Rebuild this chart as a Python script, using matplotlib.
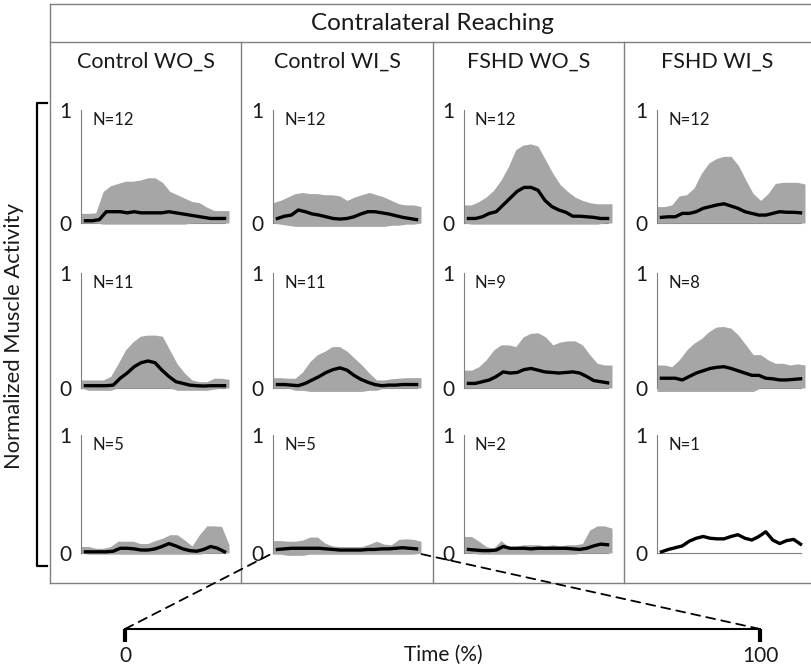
import numpy as np
import matplotlib
matplotlib.use("Agg")
import matplotlib.pyplot as plt
from matplotlib.patches import ConnectionPatch

plt.rcParams['font.family'] = ['Lato', 'DejaVu Sans']

# time (% of reach) for the SD band and the mean trace
t_band = np.linspace(0, 100, 21)
t_mean = np.linspace(3, 97, 21)

groups = ["Control WO_S", "Control WI_S", "FSHD WO_S", "FSHD WI_S"]
n_ctrl_wo = [12, 11, 5]
n_ctrl_wi = [12, 11, 5]
n_fshd_wo = [12, 9, 2]
n_fshd_wi = [12, 8, 1]

# Control WO_S (rows 1-3)
mean_ctrl_wo = [
    [0.02, 0.02, 0.03, 0.10, 0.10, 0.10, 0.09, 0.10, 0.09, 0.09, 0.09, 0.09, 0.10, 0.09, 0.08, 0.07, 0.06, 0.05, 0.04, 0.04, 0.04],
    [0.02, 0.02, 0.02, 0.02, 0.025, 0.085, 0.13, 0.185, 0.22, 0.235, 0.22, 0.155, 0.10, 0.055, 0.04, 0.025, 0.02, 0.017, 0.02, 0.02, 0.02],
    [0.01, 0.01, 0.01, 0.01, 0.015, 0.04, 0.04, 0.035, 0.025, 0.025, 0.035, 0.055, 0.08, 0.06, 0.035, 0.02, 0.015, 0.03, 0.055, 0.04, 0.01],
]
upper_ctrl_wo = [
    [0.085, 0.085, 0.09, 0.28, 0.33, 0.35, 0.37, 0.37, 0.38, 0.40, 0.40, 0.36, 0.28, 0.25, 0.22, 0.19, 0.18, 0.14, 0.11, 0.11, 0.11],
    [0.07, 0.07, 0.07, 0.07, 0.10, 0.21, 0.33, 0.40, 0.45, 0.46, 0.46, 0.45, 0.33, 0.21, 0.13, 0.07, 0.055, 0.055, 0.085, 0.085, 0.075],
    [0.055, 0.055, 0.04, 0.04, 0.055, 0.10, 0.10, 0.10, 0.08, 0.08, 0.105, 0.125, 0.155, 0.155, 0.11, 0.06, 0.155, 0.23, 0.23, 0.225, 0.07],
]
lower_ctrl_wo = [
    [0.0, 0.0, 0.0, -0.01, -0.01, -0.01, -0.01, -0.01, -0.01, -0.01, -0.01, -0.01, -0.01, -0.01, -0.01, 0.0, 0.0, 0.0, 0.0, 0.0, 0.0],
    [0.0, -0.02, -0.02, -0.02, -0.02, 0.0, 0.0, 0.0, 0.0, 0.0, 0.0, 0.0, 0.0, -0.02, -0.02, -0.02, -0.02, -0.02, -0.01, 0.0, 0.0],
    [0.0, -0.01, -0.01, -0.01, -0.01, -0.01, -0.01, -0.01, -0.01, -0.01, -0.01, -0.01, -0.01, -0.01, -0.01, -0.01, -0.01, 0.0, 0.0, 0.0, 0.0],
]

# Control WI_S
mean_ctrl_wi = [
    [0.04, 0.06, 0.07, 0.115, 0.10, 0.08, 0.07, 0.055, 0.04, 0.035, 0.04, 0.055, 0.08, 0.10, 0.10, 0.09, 0.08, 0.065, 0.05, 0.04, 0.03],
    [0.03, 0.03, 0.025, 0.02, 0.04, 0.07, 0.10, 0.135, 0.16, 0.175, 0.155, 0.11, 0.075, 0.05, 0.03, 0.02, 0.025, 0.025, 0.03, 0.03, 0.03],
    [0.03, 0.035, 0.04, 0.04, 0.04, 0.04, 0.04, 0.035, 0.03, 0.025, 0.025, 0.025, 0.025, 0.03, 0.03, 0.035, 0.035, 0.04, 0.045, 0.04, 0.035],
]
upper_ctrl_wi = [
    [0.18, 0.20, 0.23, 0.26, 0.27, 0.26, 0.26, 0.25, 0.25, 0.24, 0.20, 0.23, 0.25, 0.27, 0.25, 0.23, 0.20, 0.17, 0.16, 0.16, 0.145],
    [0.09, 0.09, 0.085, 0.085, 0.14, 0.23, 0.29, 0.32, 0.36, 0.36, 0.32, 0.26, 0.20, 0.13, 0.07, 0.07, 0.08, 0.085, 0.09, 0.09, 0.09],
    [0.105, 0.105, 0.10, 0.10, 0.11, 0.135, 0.135, 0.085, 0.06, 0.055, 0.055, 0.055, 0.055, 0.075, 0.10, 0.075, 0.07, 0.115, 0.12, 0.115, 0.10],
]
lower_ctrl_wi = [
    [0.0, -0.01, -0.02, -0.03, -0.03, -0.03, -0.03, -0.03, -0.03, -0.03, -0.03, -0.03, -0.03, -0.03, -0.03, -0.03, -0.02, -0.02, -0.01, -0.01, 0.0],
    [0.0, 0.0, 0.0, -0.02, -0.02, -0.03, -0.03, -0.03, -0.03, -0.03, -0.03, -0.03, -0.03, -0.02, -0.02, 0.0, 0.0, 0.0, 0.0, 0.0, 0.0],
    [-0.01, -0.01, -0.02, -0.02, -0.02, -0.01, -0.01, -0.01, -0.01, -0.01, -0.01, -0.01, -0.01, -0.01, -0.01, -0.01, -0.01, -0.01, -0.01, -0.01, 0.0],
]

# FSHD WO_S
mean_fshd_wo = [
    [0.04, 0.04, 0.055, 0.085, 0.10, 0.16, 0.22, 0.28, 0.315, 0.315, 0.29, 0.20, 0.145, 0.115, 0.095, 0.06, 0.06, 0.055, 0.05, 0.04, 0.04],
    [0.04, 0.04, 0.055, 0.07, 0.10, 0.14, 0.13, 0.135, 0.16, 0.17, 0.155, 0.14, 0.135, 0.13, 0.135, 0.14, 0.13, 0.10, 0.065, 0.055, 0.045],
    [0.03, 0.025, 0.02, 0.02, 0.025, 0.055, 0.04, 0.04, 0.04, 0.035, 0.04, 0.04, 0.04, 0.04, 0.04, 0.035, 0.03, 0.04, 0.06, 0.075, 0.07],
]
upper_fshd_wo = [
    [0.16, 0.16, 0.19, 0.23, 0.29, 0.38, 0.50, 0.65, 0.69, 0.70, 0.68, 0.56, 0.44, 0.34, 0.28, 0.23, 0.20, 0.18, 0.17, 0.17, 0.17],
    [0.155, 0.155, 0.185, 0.245, 0.33, 0.375, 0.375, 0.36, 0.445, 0.475, 0.48, 0.445, 0.375, 0.40, 0.41, 0.41, 0.375, 0.29, 0.215, 0.20, 0.20],
    [0.14, 0.14, 0.10, 0.055, 0.04, 0.105, 0.055, 0.055, 0.07, 0.07, 0.07, 0.06, 0.07, 0.06, 0.07, 0.07, 0.08, 0.195, 0.23, 0.23, 0.21],
]
lower_fshd_wo = [
    [0.0, -0.01, -0.01, -0.01, -0.01, -0.01, -0.01, -0.01, -0.01, -0.01, -0.01, -0.01, -0.01, -0.01, -0.01, -0.01, -0.01, -0.01, -0.01, 0.0, 0.0],
    [0.0, 0.0, 0.0, 0.0, 0.0, 0.0, 0.0, 0.0, 0.0, 0.0, 0.0, 0.0, 0.0, 0.0, 0.0, 0.0, 0.0, 0.0, 0.0, 0.0, 0.0],
    [0.0, 0.0, -0.01, -0.01, -0.01, -0.01, -0.01, -0.01, -0.01, -0.01, -0.01, -0.01, -0.01, -0.01, -0.01, -0.01, 0.0, 0.0, 0.0, 0.0, 0.0],
]

# FSHD WI_S (single subject in row 3: no band)
mean_fshd_wi = [
    [0.05, 0.055, 0.055, 0.085, 0.085, 0.10, 0.13, 0.145, 0.16, 0.17, 0.15, 0.13, 0.10, 0.085, 0.07, 0.07, 0.085, 0.10, 0.095, 0.095, 0.09],
    [0.085, 0.085, 0.085, 0.07, 0.10, 0.13, 0.15, 0.17, 0.18, 0.185, 0.17, 0.15, 0.13, 0.11, 0.11, 0.085, 0.08, 0.07, 0.07, 0.075, 0.08],
    [0.01, 0.03, 0.045, 0.06, 0.10, 0.125, 0.14, 0.125, 0.12, 0.12, 0.14, 0.155, 0.125, 0.11, 0.14, 0.18, 0.11, 0.08, 0.105, 0.115, 0.075],
]
upper_fshd_wi = [
    [0.145, 0.145, 0.16, 0.24, 0.25, 0.31, 0.44, 0.53, 0.57, 0.59, 0.59, 0.51, 0.38, 0.26, 0.20, 0.26, 0.35, 0.36, 0.36, 0.36, 0.345],
    [0.20, 0.20, 0.185, 0.245, 0.33, 0.39, 0.43, 0.49, 0.53, 0.535, 0.52, 0.46, 0.375, 0.29, 0.29, 0.245, 0.215, 0.215, 0.20, 0.21, 0.20],
    None,
]
lower_fshd_wi = [
    [0.0, 0.0, 0.0, 0.0, 0.0, 0.0, 0.0, 0.0, 0.0, 0.0, 0.0, 0.0, 0.0, 0.0, 0.0, 0.0, 0.0, 0.0, 0.0, 0.0, 0.0],
    [-0.03, -0.03, -0.03, -0.03, -0.03, -0.03, -0.03, -0.03, -0.03, -0.03, -0.03, -0.03, -0.03, -0.03, 0.0, 0.0, 0.0, 0.0, 0.0, 0.0, 0.0],
    None,
]

means = [mean_ctrl_wo, mean_ctrl_wi, mean_fshd_wo, mean_fshd_wi]
uppers = [upper_ctrl_wo, upper_ctrl_wi, upper_fshd_wo, upper_fshd_wi]
lowers = [lower_ctrl_wo, lower_ctrl_wi, lower_fshd_wo, lower_fshd_wi]
ns = [n_ctrl_wo, n_ctrl_wi, n_fshd_wo, n_fshd_wi]

W, H = 811, 670
fig = plt.figure(figsize=(W / 100, H / 100), dpi=100)

TXT = '#1a1a1a'
FRAME = '#7f7f7f'
BAND = '#a6a6a6'

# background layer in pixel coords for the table frame
bg = fig.add_axes([0, 0, 1, 1])
bg.set_xlim(0, W)
bg.set_ylim(H, 0)
bg.axis('off')

col_edges = [50, 241, 433, 624, 811]
bg.plot([50, W], [4, 4], color=FRAME, lw=1)
bg.plot([50, W], [42, 42], color=FRAME, lw=1)
bg.plot([50, W], [583, 583], color=FRAME, lw=1)
bg.plot([50, 50], [4, 583], color=FRAME, lw=1)
for x in col_edges[1:-1]:
    bg.plot([x, x], [42, 583], color=FRAME, lw=1)

bg.text(432, 24, "Contralateral Reaching", ha='center', va='center', fontsize=17.5, color=TXT)
for i, g in enumerate(groups):
    cx = (col_edges[i] + col_edges[i + 1]) / 2
    bg.text(cx, 62, g, ha='center', va='center', fontsize=15.5, color=TXT)

# y bracket + label
bg.plot([47, 37, 37, 47], [103, 103, 566, 566], color='black', lw=1.6)
bg.text(14, 336, "Normalized Muscle Activity", rotation=90, ha='center', va='center',
        fontsize=15.8, color=TXT)
bg.text(443, 655, "Time (%)", ha='center', va='center', fontsize=15, color=TXT)

# panel geometry (pixels): y-axis x position per column, y of value 1 and 0 per row
ax_x = [81, 273, 464, 657]
row_y1 = [110, 273, 435]
row_y0 = [223, 388, 553]
pw = 148
ymin = -0.05

axes = {}
for r in range(3):
    for c in range(4):
        hpx = row_y0[r] - row_y1[r]
        bottom = row_y0[r] - ymin * hpx
        ax = fig.add_axes([ax_x[c] / W, 1 - bottom / H, pw / W, (bottom - row_y1[r]) / H])
        ax.patch.set_alpha(0)
        ax.set_xlim(0, 100)
        ax.set_ylim(ymin, 1)
        up = uppers[c][r]
        lo = lowers[c][r]
        if up is not None:
            ax.fill_between(t_band, lo, up, color=BAND, lw=0, zorder=1)
        ax.plot(t_mean, means[c][r], color='black', lw=2.4, zorder=3,
                solid_joinstyle='round')
        for s in ['top', 'right']:
            ax.spines[s].set_visible(False)
        ax.spines['left'].set_bounds(0, 1)
        ax.spines['left'].set_color(FRAME)
        ax.spines['left'].set_linewidth(0.8)
        ax.spines['bottom'].set_position(('data', 0))
        ax.spines['bottom'].set_bounds(0, t_mean[-1])
        ax.spines['bottom'].set_color(FRAME)
        ax.spines['bottom'].set_linewidth(0.8)
        ax.spines['bottom'].set_zorder(0)
        ax.set_xticks([])
        ax.set_yticks([0, 1])
        ax.set_yticklabels(['0', '1'])
        ax.tick_params(axis='y', length=0, pad=7, labelsize=15, labelcolor=TXT)
        ax.annotate("N=%d" % ns[c][r], xy=(0, 1), xytext=(11, -10),
                    textcoords='offset pixels', fontsize=12, color=TXT,
                    ha='left', va='center')
        axes[(r, c)] = ax

# time axis (0-100 %)
ax_t = fig.add_axes([125 / W, 1 - 629 / H, (760 - 125) / W, 10 / H])
ax_t.patch.set_alpha(0)
ax_t.set_xlim(0, 100)
ax_t.set_ylim(0, 1)
for s in ['top', 'right', 'left']:
    ax_t.spines[s].set_visible(False)
ax_t.spines['bottom'].set_linewidth(1.5)
ax_t.spines['bottom'].set_color('black')
ax_t.set_yticks([])
ax_t.set_xticks([0, 100])
ax_t.set_xticklabels(['0', '100'])
ax_t.tick_params(axis='x', direction='out', length=9, width=3, pad=3,
                 labelsize=15, labelcolor=TXT)

# dashed zoom lines to the Control WI_S / row 3 panel
ref = axes[(2, 1)]
for ta, pa in [((0, 0), (0, 0)), ((100, 0), (t_mean[-1], 0))]:
    con = ConnectionPatch(xyA=ta, coordsA=ax_t.transData, xyB=pa, coordsB=ref.transData,
                          color='black', lw=1.3, linestyle=(0, (5, 3.5)))
    fig.add_artist(con)

fig.savefig("out.png", dpi=100)
